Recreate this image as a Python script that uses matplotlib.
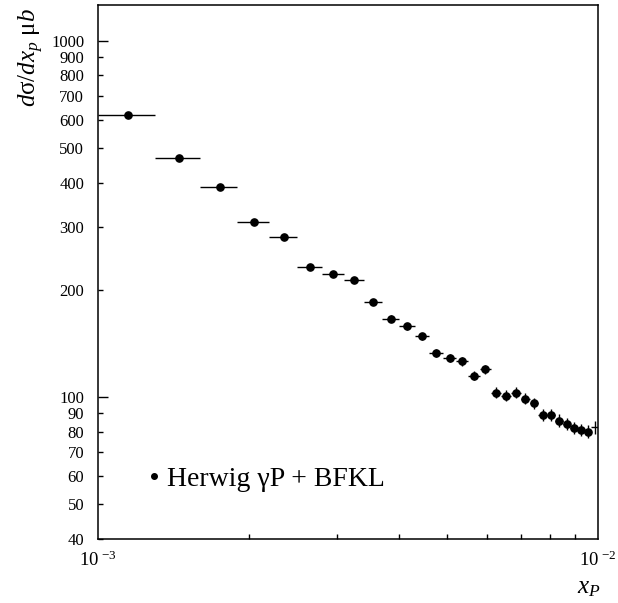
import numpy as np
import matplotlib
matplotlib.use('Agg')
import matplotlib.pyplot as plt
from matplotlib.lines import Line2D
from matplotlib.ticker import FixedLocator, FixedFormatter, NullFormatter

plt.rcParams['font.family'] = ['Liberation Serif', 'DejaVu Serif']
plt.rcParams['mathtext.fontset'] = 'custom'
plt.rcParams['mathtext.rm'] = 'Liberation Serif'
plt.rcParams['mathtext.it'] = 'Liberation Serif:italic'

# bin centres in x_P (units of 1e-3), half bin width, cross section and error
x_p = [1.15, 1.45, 1.75, 2.05, 2.35, 2.65, 2.95, 3.25, 3.55, 3.85,
       4.15, 4.45, 4.75, 5.05, 5.35, 5.65, 5.95, 6.25, 6.55, 6.85,
       7.15, 7.45, 7.75, 8.05, 8.35, 8.65, 8.95, 9.25, 9.55]
half_width = 0.15
dsigma = [620, 469, 388, 311, 282, 232, 222, 213, 185, 166,
          158, 148, 133, 129, 126, 115, 120, 103, 101, 103,
          99, 96, 89, 89, 86, 84, 82, 81, 80]
dsigma_err = [6, 5, 4, 4, 3.5, 3.5, 3.5, 3.5, 3.5, 3.5,
              3.5, 3.5, 3.5, 3.5, 3.5, 3.5, 3.5, 3.5, 3.5, 3.5,
              3.5, 3.5, 3.5, 3.5, 3.5, 3.3, 3.3, 3.3, 3.3]
# last bin, drawn without a marker
x_last = [9.85]
dsigma_last = [82.3]
err_last = [3.7]

legend_label = 'Herwig γP + BFKL'

fig = plt.figure(figsize=(6.18, 6.03), dpi=100)
ax = fig.add_axes([98 / 618, 1 - 539 / 603, 500 / 618, 534 / 603])

x = np.array(x_p) * 1e-3
ax.errorbar(x, dsigma, xerr=half_width * 1e-3, yerr=dsigma_err, fmt='o', color='black',
            ms=5.2, elinewidth=1, capsize=0)
ax.errorbar(np.array(x_last) * 1e-3, dsigma_last, xerr=half_width * 1e-3, yerr=err_last,
            fmt='none', ecolor='black', elinewidth=1, capsize=0)

ax.set_xscale('log')
ax.set_yscale('log')
ax.set_xlim(1e-3, 1e-2)
ax.set_ylim(40, 1260)

# y ticks, labelled everywhere
ax.yaxis.set_major_locator(FixedLocator([100, 1000]))
ax.yaxis.set_major_formatter(FixedFormatter(['100', '1000']))
ymin = [40, 50, 60, 70, 80, 90, 200, 300, 400, 500, 600, 700, 800, 900]
ax.yaxis.set_minor_locator(FixedLocator(ymin))
ax.yaxis.set_minor_formatter(FixedFormatter([str(v) for v in ymin]))

ax.xaxis.set_major_locator(FixedLocator([1e-3, 1e-2]))
ax.xaxis.set_major_formatter(FixedFormatter([r'$\mathrm{10}^{\ \mathrm{-3}}$',
                                             r'$\mathrm{10}^{\ \mathrm{-2}}$']))
ax.xaxis.set_minor_locator(FixedLocator([k * 1e-3 for k in range(2, 10)]))
ax.xaxis.set_minor_formatter(NullFormatter())

ax.tick_params(which='both', direction='in', top=False, right=False, width=1)
ax.tick_params(axis='y', which='major', length=7.5, pad=10, labelsize=12)
ax.tick_params(axis='y', which='minor', length=3.6, pad=10, labelsize=12)
ax.tick_params(axis='x', which='major', length=0, pad=8, labelsize=13.5)
ax.tick_params(axis='x', which='minor', length=3.3)

for s in ax.spines.values():
    s.set_linewidth(1.1)

fig.text(31 / 618, 1 - 8 / 603, r'$d\mathrm{\sigma}/dx_{p}\ \mathrm{\mu}b$', rotation=90,
         ha='center', va='top', fontsize=18)
fig.text(601 / 618, 1 - 599 / 603, r'$x_{P}$', ha='right', va='bottom', fontsize=18)

handle = Line2D([], [], marker='o', ls='none', color='black', ms=4)
ax.legend([handle], [legend_label], loc='center left', bbox_to_anchor=(0.10, 0.112),
          frameon=False, fontsize=20, handlelength=0.4, handletextpad=0.3,
          borderpad=0, borderaxespad=0)

fig.savefig('out.png', dpi=100)
